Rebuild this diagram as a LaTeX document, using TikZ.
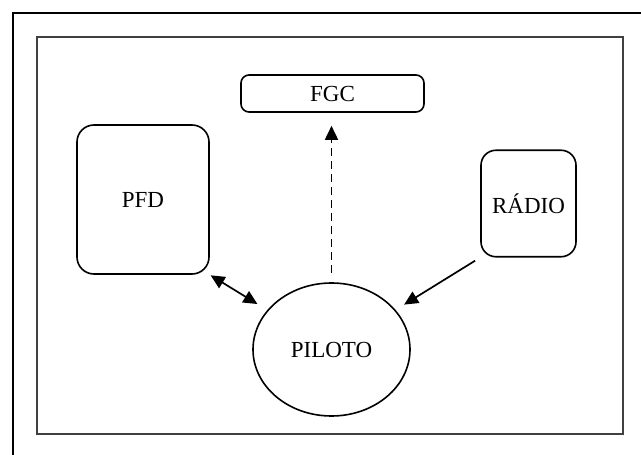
\documentclass[tikz,border=0pt]{standalone}
\usepackage{fontspec}
\setmainfont{Liberation Serif}
\usetikzlibrary{shapes.geometric,arrows.meta,calc}
\begin{document}
\begin{tikzpicture}[x=1pt,y=-1pt,
  boxstyle/.style={draw, line width=1.6pt, inner sep=0pt, font=\fontsize{23}{25}\selectfont},
  conn/.style={line width=1.7pt, -{Triangle[length=14pt,width=13pt]}}]
\useasboundingbox (0,0) rectangle (641,455);
\clip (0,0) rectangle (641,455);
\fill[white] (0,0) rectangle (641,455);
% outer frame
\draw[line width=2.6pt] (13,460) -- (13,13) -- (650,13);
% inner frame
\draw[line width=2pt, black!75] (37,37) rectangle (623,434);
% nodes
\node[boxstyle, rectangle, rounded corners=8pt, minimum width=183pt, minimum height=37pt] (fgc) at (332.5,93.5) {FGC};
\node[boxstyle, rectangle, rounded corners=17pt, minimum width=132pt, minimum height=149pt] (pfd) at (143,199.5) {PFD};
\node[boxstyle, rectangle, rounded corners=15pt, minimum width=95pt, minimum height=106.5pt] (radio) at (528.5,203.5) {RÁDIO};
\node[boxstyle, ellipse, minimum width=157pt, minimum height=133pt] (pilot) at (331.5,349.5) {PILOTO};
% connectors
\draw[conn, dash pattern=on 8pt off 5pt, shorten <=9pt, shorten >=13pt] (pilot.north) -- (pilot.north |- fgc.south);
\draw[line width=1.7pt, {Triangle[length=14pt,width=13pt]}-{Triangle[length=14pt,width=13pt]}, shorten <=1pt, shorten >=11.5pt] (pfd.south east) -- (pilot);
\draw[conn, shorten <=6pt, shorten >=10pt] (radio.south west) -- (pilot);
\end{tikzpicture}
\end{document}
